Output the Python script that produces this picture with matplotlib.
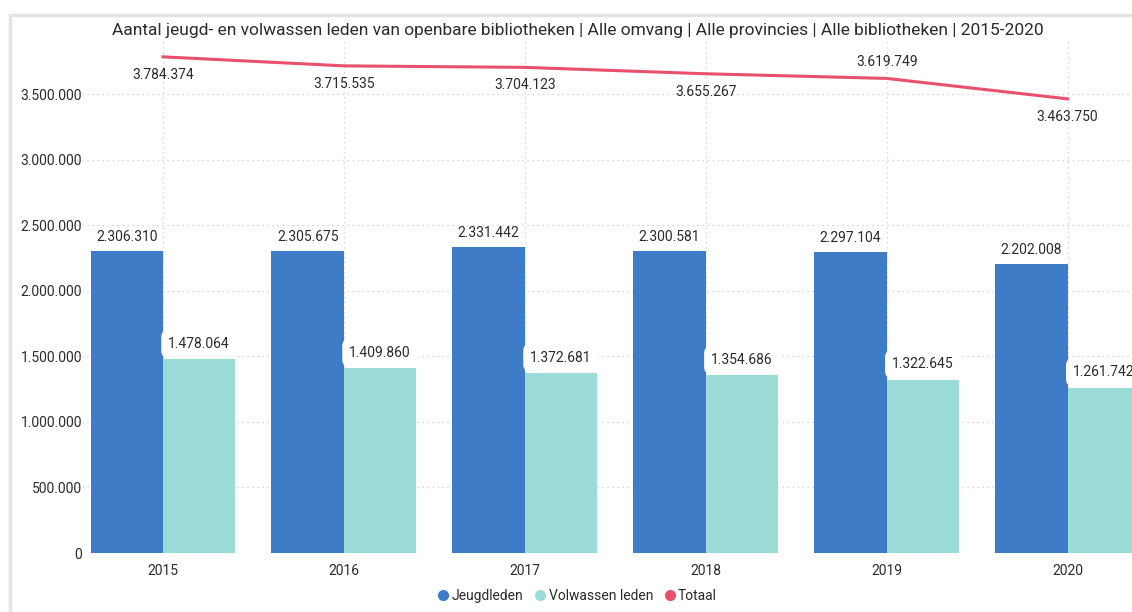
import matplotlib.pyplot as plt
from matplotlib.ticker import FuncFormatter
from matplotlib.lines import Line2D
from matplotlib.patches import Rectangle
import numpy as np

# --- DATA ---
years = ['2015', '2016', '2017', '2018', '2019', '2020']
jeugd = [2306310, 2305675, 2331442, 2300581, 2297104, 2202008]
volwassen = [1478064, 1409860, 1372681, 1354686, 1322645, 1261742]
totaal = [3784374, 3715535, 3704123, 3655267, 3619749, 3463750]
# label above (True) or below (False) the line point
totaal_above = [False, False, False, False, True, False]

C_BLUE = '#3E7CC8'
C_TEAL = '#9BDCD7'
C_PINK = '#E9506E'
TXT = '#2B2B2B'

plt.rcParams['font.family'] = ['Roboto', 'DejaVu Sans']


def fmt(v):
    return f'{int(v):,}'.replace(',', '.')


fig = plt.figure(figsize=(11.32, 6.12), dpi=100)
# frame lines of the visual
fig.add_artist(Rectangle((10 / 1132, -0.1), 1.1, 0.1 + (612 - 15) / 612, transform=fig.transFigure,
                         fill=False, edgecolor='#E4E4E4', linewidth=2.5))

ax = fig.add_axes([0.064, 0.0964, 0.959, 0.8355])
x = np.arange(len(years))
w = 0.4

ax.bar(x - w / 2, jeugd, width=w, color=C_BLUE, zorder=3)
ax.bar(x + w / 2, volwassen, width=w, color=C_TEAL, zorder=3)
ax.plot(x, totaal, color=C_PINK, linewidth=2.2, zorder=4)

for i in range(len(years)):
    ax.annotate(fmt(jeugd[i]), (x[i] - w / 2, jeugd[i]), xytext=(0, 5),
                textcoords='offset points', ha='center', va='bottom',
                fontsize=10, color=TXT, zorder=5)
    ax.annotate(fmt(volwassen[i]), (x[i] + w / 2, volwassen[i]), xytext=(0, 6),
                textcoords='offset points', ha='center', va='bottom',
                fontsize=10, color=TXT, zorder=5,
                bbox=dict(boxstyle='round,pad=0.5', fc='white', ec='none'))
    off = 7 if totaal_above[i] else -8
    ax.annotate(fmt(totaal[i]), (x[i], totaal[i]), xytext=(0, off),
                textcoords='offset points', ha='center',
                va='bottom' if totaal_above[i] else 'top',
                fontsize=10, color=TXT, zorder=5)

ax.set_xlim(-0.5, 5.5)
ax.set_ylim(0, 3900000)
ax.set_yticks(np.arange(0, 3500001, 500000))
ax.yaxis.set_major_formatter(FuncFormatter(lambda v, p: fmt(v)))
ax.set_xticks(x)
ax.set_xticklabels(years)
ax.tick_params(axis='both', length=0, labelsize=10, labelcolor=TXT)
ax.tick_params(axis='x', pad=8)
ax.tick_params(axis='y', pad=-7)

ax.grid(True, linestyle=(0, (1, 3)), color='#CCCCCC', linewidth=0.9, zorder=0)
for s in ax.spines.values():
    s.set_visible(False)

fig.text(578 / 1132, 1 - 30 / 612,
         'Aantal jeugd- en volwassen leden van openbare bibliotheken | Alle omvang | '
         'Alle provincies | Alle bibliotheken | 2015-2020',
         ha='center', va='center', fontsize=12.5, color=TXT)

handles = [Line2D([], [], marker='o', linestyle='none', markersize=7, color=c)
           for c in (C_BLUE, C_TEAL, C_PINK)]
fig.legend(handles, ['Jeugdleden', 'Volwassen leden', 'Totaal'],
           loc='center', bbox_to_anchor=(576 / 1132, 1 - 596 / 612), ncol=3,
           frameon=False, fontsize=10, handletextpad=0.0, columnspacing=0.6,
           handlelength=1.2, labelcolor=TXT)

fig.savefig('out.png', dpi=100)
